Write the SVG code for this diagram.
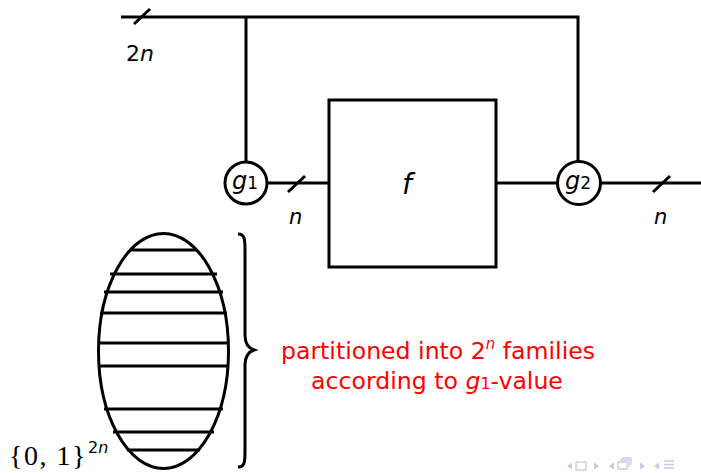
<svg xmlns="http://www.w3.org/2000/svg" width="701" height="473" viewBox="0 0 701 473">
<style>
.w{fill:none;stroke:#000;stroke-width:3;stroke-linecap:butt}
.t{font-family:"DejaVu Sans","Liberation Sans",sans-serif;fill:#000}
.i{font-style:italic}
.red{font-family:"DejaVu Sans","Liberation Sans",sans-serif;fill:#ff0000;font-size:23.6px}
.nav{fill:#c9c9e6}
.navs{fill:none;stroke:#c9c9e6;stroke-width:1.3}
</style>
<g id="connectors">
<path class="w" d="M121,17 H578 V161"/>
<path class="w" d="M246,17 V162"/>
<path class="w" d="M268,183 H329"/>
<path class="w" d="M496,183 H557"/>
<path class="w" d="M601,183 H701"/>
<path class="w" d="M134,24 L150,9"/>
<path class="w" d="M288,192 L305,176"/>
<path class="w" d="M653,192 L670,176"/>
<text class="t" x="126" y="61" font-size="22">2<tspan class="i">n</tspan></text>
<text class="t i" x="289" y="224" font-size="21">n</text>
<text class="t i" x="654" y="224" font-size="21">n</text>
</g>
<g id="g1">
<circle class="w" cx="246" cy="183" r="21" fill="#fff" stroke-width="2.5"/>
<text class="t" x="232" y="189" font-size="24"><tspan class="i">g</tspan><tspan font-size="17">1</tspan></text>
</g>
<g id="f">
<rect class="w" x="329" y="100" width="167" height="167"/>
<text class="t i" x="402" y="194" font-size="28">f</text>
</g>
<g id="g2">
<circle class="w" cx="579" cy="183" r="21.5" fill="#fff" stroke-width="2.5"/>
<text class="t" x="565" y="189" font-size="24"><tspan class="i">g</tspan><tspan font-size="17">2</tspan></text>
</g>
<g id="set">
<ellipse class="w" cx="163.5" cy="351" rx="65" ry="117.5"/>
<path class="w" d="M130,250 H197 M110,274 H217 M104,292 H223 M100,313 H227 M98.5,343 H228.5 M98.7,366 H228.3 M104,409 H223 M113,432 H214 M127,450 H200"/>
<path class="w" d="M238,234 C245,234 245,240 245,250 V335 C245,344 248,348 254,350 C248,352 245,356 245,365 V451 C245,461 245,467 238,467" stroke-width="2.8"/>
<text x="9" y="465" font-size="28" letter-spacing="1.5" font-family="'Liberation Serif','Times New Roman',serif">{0, 1}</text>
<text class="t" x="88" y="453" font-size="16">2<tspan class="i">n</tspan></text>
</g>
<g id="label">
<text class="red" x="438" y="359" text-anchor="middle">partitioned into 2<tspan font-size="15" dy="-10" class="i">n</tspan><tspan dy="10"> families</tspan></text>
<text class="red" x="437" y="389" text-anchor="middle">according to <tspan class="i">g</tspan><tspan font-size="16">1</tspan>-value</text>
</g>
<g id="nav">
<path class="nav" d="M567,466 L572,462.5 V469.5 Z"/>
<rect class="navs" x="576" y="462" width="10" height="8"/>
<path class="nav" d="M594,462.5 L599,466 L594,469.5 Z"/>
<path class="nav" d="M609,466 L614,462.5 V469.5 Z"/>
<path class="navs" d="M618,462 h9 v7 h-9 Z M620,460 h9 v7 M622,458 h9 v7"/>
<path class="nav" d="M640,462.5 L645,466 L640,469.5 Z"/>
<path class="nav" d="M654,466 L659,462.5 V469.5 Z"/>
<path class="navs" d="M664,461 h10 M664,464.5 h10 M664,468 h10"/>
</g>
</svg>
